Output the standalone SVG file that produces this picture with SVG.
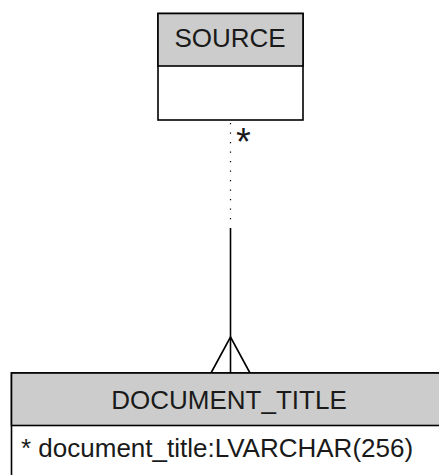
<svg xmlns="http://www.w3.org/2000/svg" width="439" height="475" viewBox="0 0 439 475">
<style>
.box{fill:#ffffff;stroke:#000000;stroke-width:1.6}
.hdr{fill:#cccccc;stroke:#000000;stroke-width:1.6}
.t{font-family:"Liberation Sans",Arial,sans-serif;font-size:26px;fill:#1a1a1a}
.ln{stroke:#000000;stroke-width:1.6;fill:none}
.dot{stroke:#000000;stroke-width:1.2;fill:none;stroke-dasharray:1.2 8.3}
</style>
<rect width="439" height="475" fill="#ffffff"/>
<g id="connectors">
<line class="dot" x1="230.5" y1="123" x2="230.5" y2="225"/>
<line class="ln" x1="230.5" y1="228" x2="230.5" y2="373"/>
<polyline class="ln" points="211,373 230.5,337 250,373"/>
<text class="t" x="236" y="155" style="font-size:38px">*</text>
</g>
<g id="source">
<rect class="box" x="158" y="13.5" width="145" height="106.5"/>
<rect class="hdr" x="158" y="13.5" width="145" height="52.5"/>
<text class="t" x="230" y="47" text-anchor="middle">SOURCE</text>
</g>
<g id="document_title">
<rect class="box" x="11.5" y="373" width="440" height="110"/>
<rect class="hdr" x="11.5" y="373" width="440" height="52.5"/>
<text class="t" x="229" y="409" text-anchor="middle">DOCUMENT_TITLE</text>
<text class="t" x="21" y="457">* document_title:LVARCHAR(256)</text>
</g>
</svg>
